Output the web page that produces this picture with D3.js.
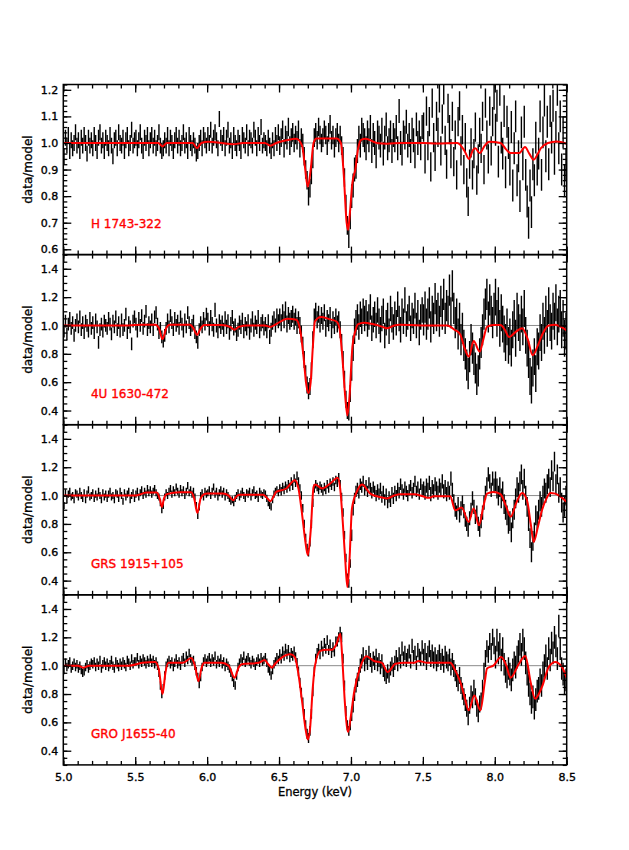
<!DOCTYPE html>
<html>
<head>
<meta charset="utf-8">
<script src="https://cdn.jsdelivr.net/npm/d3@7"></script>
<style>
  body { margin: 0; background: #fff; }
  text { font-family: "DejaVu Sans", sans-serif; }
</style>
</head>
<body>
<div id="chart"></div>
<script>
// energy bins: 0.01 keV wide, 5.00 .. 8.49 (bin start)
var eMin = 5.0, eMax = 8.5, eStep = 0.01;

// data/model ratio, one value per bin (rows = 0.1 keV)
var dataH1743 = [
  0.95,1.02,0.99,1.03,0.97,1.01,0.98,1.00,1.04,0.99,
  1.01,0.97,1.02,0.99,1.03,1.00,0.96,1.02,0.99,1.01,
  0.98,1.03,1.00,0.97,1.02,1.04,0.99,1.01,0.97,1.02,
  1.00,0.98,1.03,0.99,0.95,1.01,1.02,0.98,1.04,1.00,
  0.99,1.02,0.97,1.01,1.03,0.98,1.00,1.05,0.99,1.01,
  1.02,0.98,1.01,1.04,0.99,0.97,1.02,1.00,1.03,0.98,
  1.01,1.03,0.99,1.02,0.98,1.00,1.04,0.99,0.97,0.98,
  1.01,0.99,1.03,0.98,1.02,1.00,0.97,1.01,1.03,0.99,
  1.02,0.98,1.00,1.04,0.99,1.01,0.97,1.03,1.00,0.98,
  1.01,0.99,0.96,0.97,1.00,1.02,0.98,1.03,1.01,0.99,
  1.03,1.00,1.05,0.99,1.02,1.04,1.01,0.98,1.09,1.02,
  1.00,1.03,0.98,1.02,1.05,0.99,1.01,0.97,1.03,1.00,
  0.98,1.02,1.00,0.97,1.03,1.01,0.99,1.04,0.98,1.02,
  1.01,0.99,1.05,1.02,0.98,1.03,1.00,1.06,0.99,1.01,
  1.00,0.98,1.02,0.99,0.97,1.01,0.98,1.03,1.00,1.04,
  0.99,1.02,1.05,0.98,1.03,1.01,1.06,0.99,1.02,1.04,
  1.00,1.03,1.01,1.05,0.98,1.02,1.00,0.95,0.90,0.86,
  0.80,0.83,0.88,0.94,1.02,1.04,1.01,1.06,1.03,1.00,
  1.02,1.05,1.03,0.99,1.04,1.07,1.01,1.03,0.98,1.02,
  1.04,1.00,1.03,0.99,0.95,0.87,0.77,0.69,0.64,0.71,
  0.80,0.84,0.90,0.91,0.97,1.02,0.99,1.05,1.03,1.01,
  0.98,1.04,1.01,1.06,0.97,1.03,1.00,0.95,1.04,1.02,
  0.99,1.05,0.96,1.02,1.07,0.98,1.01,1.04,0.97,1.03,
  1.01,1.06,0.98,1.12,1.00,0.96,1.04,1.02,1.08,0.99,
  1.03,0.97,1.05,1.01,0.95,1.07,1.00,1.04,0.98,1.06,
  1.06,0.94,1.12,0.99,1.08,0.91,1.15,1.02,0.95,1.10,
  1.04,1.17,0.97,1.09,1.20,1.01,0.92,1.13,1.05,0.96,
  1.10,0.93,1.03,0.88,1.08,1.14,0.97,1.05,0.90,1.02,
  0.85,0.78,0.92,1.00,0.88,0.96,1.06,0.86,0.94,1.04,
  0.98,1.10,0.90,1.15,1.03,0.94,1.12,0.97,1.08,1.18,
  1.05,1.14,0.93,1.20,1.02,0.96,1.12,0.89,1.08,1.00,
  0.90,1.06,0.84,0.98,1.10,0.86,0.95,0.80,1.04,0.92,
  1.08,0.88,0.78,0.70,0.84,0.74,0.92,0.86,1.02,0.90,
  0.96,1.10,0.88,1.04,1.16,0.95,1.08,0.92,1.12,1.02,
  1.14,0.94,1.06,1.20,0.98,1.10,0.90,1.04,0.86,0.92
];
var data4U1630 = [
  0.96,1.03,0.94,1.01,1.05,0.98,1.02,0.93,1.00,1.04,
  0.99,1.06,0.97,1.02,0.95,1.03,1.00,0.96,1.05,0.98,
  1.02,0.95,1.04,0.99,0.88,0.97,1.01,0.96,1.03,1.00,
  0.98,1.05,1.01,0.94,1.03,0.99,1.06,0.97,1.02,0.96,
  1.04,0.97,1.00,1.08,0.95,1.02,0.99,0.87,1.03,1.06,
  1.01,0.96,1.05,1.00,1.07,0.98,1.03,1.10,0.97,1.02,
  0.99,1.04,0.97,1.06,1.09,1.01,0.95,0.98,0.92,0.89,
  0.93,0.98,1.04,0.99,1.07,1.02,0.97,1.05,1.00,1.03,
  0.98,1.06,1.01,0.96,1.04,0.99,1.09,1.02,0.97,1.00,
  1.03,0.95,0.92,0.88,0.97,1.02,0.99,1.05,1.01,1.08,
  1.04,0.98,1.06,1.01,0.97,1.11,1.00,0.96,1.03,0.99,
  1.02,0.97,1.05,0.99,1.03,0.95,1.01,1.06,0.98,1.00,
  0.94,0.97,1.02,0.99,1.04,0.96,1.01,0.98,1.03,0.95,
  1.00,1.05,0.97,1.02,0.99,1.06,0.96,1.01,1.03,0.98,
  1.01,0.96,1.03,0.92,0.97,1.02,1.05,1.00,1.07,1.03,
  1.06,1.02,1.09,1.04,1.11,1.01,1.07,1.03,1.05,1.08,
  1.03,1.06,1.00,1.04,1.00,0.94,0.86,0.76,0.66,0.58,
  0.54,0.57,0.68,0.90,1.06,1.10,1.04,1.08,1.01,1.07,
  1.03,1.09,0.98,1.05,1.02,1.07,0.97,1.04,1.00,1.06,
  1.01,1.04,0.97,0.88,0.76,0.62,0.48,0.40,0.39,0.52,
  0.70,0.84,0.96,1.02,1.06,0.99,1.08,1.03,1.10,1.05,
  1.09,1.01,1.06,1.13,0.98,1.04,1.08,1.00,1.11,1.03,
  0.97,1.05,1.10,0.93,1.02,1.07,0.96,1.12,1.04,0.99,
  1.08,1.02,1.15,1.05,0.97,1.10,1.03,1.18,1.01,1.06,
  1.12,0.98,1.07,1.03,1.14,1.00,1.09,0.95,1.06,1.11,
  1.04,1.13,1.01,1.08,1.16,0.99,1.10,1.05,1.19,1.07,
  1.12,1.03,1.17,1.08,1.22,1.05,1.14,1.10,1.25,1.09,
  1.28,1.12,1.02,1.08,0.94,1.05,0.90,0.98,0.86,0.80,
  0.72,0.66,0.78,0.90,0.84,0.76,0.70,0.62,0.68,0.80,
  0.88,0.97,1.08,1.15,1.22,1.06,1.18,1.10,1.02,1.12,
  1.20,1.05,1.14,0.98,1.09,1.01,0.94,0.88,0.99,0.86,
  0.92,0.84,0.97,1.05,0.91,1.10,1.02,0.95,1.08,0.99,
  1.12,0.93,0.84,0.76,0.64,0.58,0.70,0.78,0.66,0.85,
  0.82,0.95,0.88,1.03,0.93,1.08,0.98,1.14,1.02,0.96,
  1.10,1.03,1.16,0.99,1.08,1.12,0.97,1.05,0.91,0.96
];
var dataGRS1915 = [
  0.93,1.02,0.97,1.01,1.03,0.99,1.00,0.97,1.02,1.01,
  0.99,1.03,1.00,0.98,1.02,0.97,1.01,1.04,0.99,1.00,
  1.02,0.98,1.01,0.99,1.03,1.00,0.97,1.02,0.99,1.01,
  0.98,1.01,1.03,0.99,1.00,0.97,1.02,1.01,0.98,1.03,
  1.00,0.96,1.02,0.99,1.01,1.03,0.97,1.00,1.02,0.98,
  1.01,1.03,0.99,1.02,1.04,1.00,1.03,1.01,1.05,1.02,
  1.04,1.01,1.03,1.05,1.02,1.00,0.99,0.95,0.90,0.93,
  0.99,1.02,1.00,1.03,1.05,1.01,1.04,1.02,1.06,1.03,
  1.01,1.05,1.02,1.04,1.00,1.03,1.07,1.02,1.04,1.01,
  1.03,0.99,0.93,0.86,0.92,1.00,1.02,0.99,1.03,1.01,
  1.02,1.04,1.00,1.03,1.06,1.01,1.03,0.99,1.02,1.04,
  1.01,1.03,0.99,1.02,1.00,0.98,0.96,0.97,0.95,0.98,
  1.00,1.02,0.99,1.01,1.03,1.00,0.98,1.02,1.01,1.03,
  0.99,1.02,1.04,1.00,1.01,0.98,1.03,1.01,1.00,1.02,
  1.01,0.98,0.95,0.93,0.92,0.97,1.01,1.03,1.04,1.02,
  1.05,1.03,1.06,1.04,1.07,1.05,1.08,1.06,1.10,1.07,
  1.12,1.09,1.14,1.10,1.05,1.00,0.91,0.80,0.70,0.63,
  0.60,0.67,0.80,0.95,1.05,1.08,1.06,1.04,1.07,1.05,
  1.03,1.06,1.04,1.08,1.05,1.09,1.07,1.10,1.06,1.11,
  1.09,1.13,1.08,0.99,0.88,0.72,0.56,0.42,0.38,0.52,
  0.72,0.90,0.98,1.03,1.05,1.02,1.08,1.06,1.10,1.04,
  1.07,1.03,1.09,1.05,1.02,1.06,1.03,1.00,1.04,1.01,
  1.05,0.99,1.03,0.97,1.01,0.95,0.99,0.96,1.02,0.98,
  1.03,1.00,1.05,1.02,1.08,1.04,1.01,1.06,1.03,1.00,
  1.04,1.07,1.02,1.05,1.10,1.03,1.06,1.01,1.08,1.04,
  1.05,1.02,1.07,1.04,1.09,1.01,1.06,1.03,1.08,1.05,
  1.02,1.07,1.04,1.10,1.03,1.06,1.01,1.05,1.02,1.12,
  1.04,0.96,0.90,0.88,0.94,0.86,0.91,0.95,0.89,0.83,
  0.80,0.76,0.84,0.90,0.98,0.92,0.85,0.88,0.80,0.76,
  0.82,0.88,0.95,1.02,1.08,1.15,1.10,1.04,1.12,1.07,
  1.10,1.05,1.00,1.06,0.98,1.03,0.94,0.90,0.86,0.80,
  0.82,0.74,0.84,0.90,0.98,1.06,1.02,1.10,1.15,1.04,
  1.12,1.00,0.92,0.82,0.70,0.60,0.68,0.74,0.86,0.82,
  0.90,0.96,0.92,1.00,1.05,1.02,1.08,1.12,1.06,1.18,
  1.10,1.24,1.08,1.15,1.02,1.06,0.95,0.88,0.92,1.00
];
var dataGRO1655 = [
  0.97,1.02,0.99,1.01,1.03,0.98,1.00,1.02,0.99,1.01,
  0.98,1.00,0.97,0.95,0.96,0.99,1.01,0.98,1.00,1.02,
  1.01,1.03,0.99,1.02,1.00,1.04,0.98,1.01,1.03,1.00,
  1.02,0.99,1.01,1.04,1.00,0.98,1.03,1.01,0.99,1.02,
  1.00,1.03,1.01,0.99,1.04,1.02,1.00,1.05,1.01,1.03,
  1.03,1.06,1.01,1.04,1.02,1.05,1.03,1.01,1.04,1.02,
  1.05,1.02,1.04,1.01,1.03,1.00,0.95,0.86,0.80,0.84,
  0.93,1.00,1.02,1.04,1.01,1.03,0.99,1.02,1.05,1.01,
  1.03,1.00,1.04,1.06,1.02,1.07,1.04,1.09,1.05,1.03,
  1.04,1.00,0.96,0.92,0.87,0.92,0.99,1.03,1.05,1.02,
  1.04,1.06,1.02,1.05,1.03,1.07,1.01,1.04,1.02,1.05,
  1.01,1.03,0.99,1.02,1.00,0.98,0.95,0.92,0.88,0.86,
  0.93,0.99,1.02,1.05,1.03,1.07,1.02,1.04,1.06,1.03,
  1.01,1.04,1.02,1.00,1.03,1.05,1.02,1.06,1.03,1.04,
  1.06,1.02,0.98,0.96,0.93,0.97,1.01,1.03,1.06,1.04,
  1.08,1.05,1.10,1.07,1.12,1.08,1.11,1.06,1.09,1.07,
  1.10,1.06,1.02,0.96,0.88,0.81,0.74,0.66,0.58,0.52,
  0.49,0.54,0.66,0.82,0.96,1.05,1.09,1.12,1.08,1.14,
  1.10,1.16,1.12,1.18,1.11,1.15,1.09,1.13,1.10,1.17,
  1.17,1.20,1.24,1.20,1.05,0.86,0.68,0.58,0.54,0.58,
  0.66,0.72,0.80,0.86,0.90,0.94,1.00,1.03,1.08,1.01,
  1.06,1.02,1.09,1.04,1.00,1.05,1.02,1.07,1.01,1.04,
  0.99,1.03,0.97,0.94,0.92,0.96,0.93,0.98,1.01,0.97,
  1.02,1.06,1.01,1.08,1.03,1.12,1.05,1.09,1.04,1.07,
  1.10,1.03,1.14,1.06,1.09,1.02,1.11,1.07,1.05,1.13,
  1.06,1.10,1.03,1.08,1.12,1.05,1.09,1.04,1.07,1.02,
  1.05,1.09,1.03,1.06,1.01,1.08,1.04,1.02,1.06,0.99,
  1.03,0.98,0.95,0.91,0.88,0.93,0.86,0.82,0.78,0.74,
  0.70,0.64,0.72,0.80,0.76,0.84,0.78,0.70,0.66,0.73,
  0.75,0.84,0.96,1.05,1.12,1.08,1.17,1.10,1.20,1.14,
  1.06,1.18,1.09,1.15,1.04,1.12,1.01,0.96,0.92,0.98,
  0.94,0.90,0.97,1.02,0.99,1.06,1.10,1.15,1.08,1.18,
  1.12,1.02,0.94,0.86,0.80,0.74,0.78,0.70,0.76,0.82,
  0.84,0.90,0.86,0.95,1.00,1.07,0.98,1.12,1.04,1.16,
  1.09,1.20,1.14,1.05,1.28,1.12,0.98,0.94,0.88,0.90
];

// 1-sigma error per 0.5 keV band (5.0-5.5, ..., 8.0-8.5)
var errH1743 = [0.03, 0.03, 0.03, 0.035, 0.045, 0.055, 0.06];
var err4U1630 = [0.045, 0.045, 0.05, 0.06, 0.09, 0.11, 0.13];
var errGRS1915 = [0.025, 0.025, 0.025, 0.03, 0.04, 0.05, 0.07];
var errGRO1655 = [0.03, 0.03, 0.03, 0.035, 0.05, 0.06, 0.08];

// best-fit model, [energy keV, ratio]
var modelH1743 = [[5.0,1.0],[5.66,1.0],[5.69,0.987],[5.72,1.0],[5.90,1.0],[5.93,0.98],[5.96,1.0],[6.01,1.005],[6.10,1.0],[6.18,0.995],[6.25,1.0],[6.40,1.0],[6.44,0.99],[6.48,1.0],[6.55,1.01],[6.62,1.016],[6.66,0.99],[6.68,0.91],[6.70,0.835],[6.72,0.9],[6.74,1.0],[6.76,1.017],[6.90,1.017],[6.93,1.0],[6.95,0.88],[6.97,0.70],[6.98,0.673],[6.99,0.72],[7.01,0.85],[7.03,0.90],[7.05,0.98],[7.07,1.012],[7.10,1.016],[7.18,1.0],[7.25,0.997],[7.35,1.0],[7.5,1.0],[7.6,0.998],[7.74,1.0],[7.79,0.97],[7.82,0.94],[7.85,0.975],[7.865,0.98],[7.895,0.962],[7.93,0.99],[7.96,1.005],[8.04,1.0],[8.08,0.975],[8.11,0.962],[8.17,0.962],[8.21,0.985],[8.24,0.96],[8.27,0.937],[8.30,0.96],[8.32,0.98],[8.37,1.0],[8.43,1.006],[8.5,0.997]];
var model4U1630 = [[5.0,1.0],[5.45,1.0],[5.55,1.005],[5.64,1.005],[5.665,0.98],[5.69,0.904],[5.715,0.98],[5.74,1.005],[5.88,1.005],[5.905,0.98],[5.93,0.934],[5.955,0.98],[5.98,1.003],[6.10,1.003],[6.16,0.99],[6.19,0.97],[6.22,0.99],[6.28,1.0],[6.40,1.0],[6.44,0.99],[6.48,1.01],[6.56,1.047],[6.62,1.04],[6.65,0.95],[6.67,0.78],[6.69,0.58],[6.705,0.523],[6.72,0.6],[6.735,0.85],[6.75,1.03],[6.79,1.06],[6.85,1.045],[6.90,1.028],[6.92,0.98],[6.94,0.78],[6.96,0.5],[6.975,0.365],[6.99,0.5],[7.01,0.85],[7.03,0.96],[7.05,1.01],[7.09,1.02],[7.15,1.01],[7.22,0.99],[7.25,0.98],[7.30,1.0],[7.34,1.005],[7.50,1.0],[7.67,1.0],[7.72,0.97],[7.76,0.936],[7.79,0.84],[7.82,0.78],[7.853,0.89],[7.895,0.816],[7.92,0.9],[7.946,0.99],[7.99,1.003],[8.04,1.003],[8.07,0.97],[8.10,0.918],[8.14,0.95],[8.19,0.98],[8.23,0.9],[8.263,0.79],[8.30,0.86],[8.33,0.936],[8.375,1.0],[8.42,1.005],[8.46,0.99],[8.5,0.965]];
var modelGRS1915 = [[5.0,1.0],[5.5,1.0],[5.58,1.021],[5.65,1.021],[5.67,0.98],[5.686,0.92],[5.70,0.98],[5.72,1.01],[5.81,1.024],[5.89,1.024],[5.91,0.98],[5.932,0.878],[5.955,0.98],[5.98,1.01],[6.0,1.015],[6.11,1.015],[6.15,1.0],[6.18,0.967],[6.21,1.0],[6.23,1.005],[6.39,1.005],[6.42,0.98],[6.44,0.96],[6.46,0.99],[6.48,1.026],[6.55,1.05],[6.61,1.108],[6.635,1.05],[6.66,0.87],[6.68,0.7],[6.70,0.579],[6.72,0.75],[6.74,1.06],[6.75,1.078],[6.80,1.05],[6.856,1.085],[6.907,1.125],[6.925,1.05],[6.94,0.86],[6.96,0.55],[6.975,0.355],[6.99,0.55],[7.007,0.91],[7.04,1.026],[7.077,1.078],[7.134,1.014],[7.20,0.99],[7.25,0.98],[7.30,1.0],[7.34,1.01],[7.44,1.01],[7.50,0.995],[7.54,0.984],[7.575,0.995],[7.69,0.995],[7.725,0.896],[7.77,0.915],[7.818,0.814],[7.853,0.908],[7.89,0.79],[7.92,0.92],[7.946,1.014],[7.99,1.026],[8.04,1.01],[8.08,0.92],[8.11,0.85],[8.15,0.95],[8.19,1.019],[8.224,0.967],[8.25,0.8],[8.27,0.673],[8.30,0.78],[8.328,0.896],[8.36,0.98],[8.386,1.019],[8.42,1.014],[8.46,0.99],[8.5,0.955]];
var modelGRO1655 = [[5.0,1.0],[5.1,1.0],[5.14,0.986],[5.18,1.0],[5.45,1.0],[5.55,1.02],[5.64,1.026],[5.665,0.97],[5.69,0.80],[5.71,0.95],[5.73,1.02],[5.83,1.02],[5.89,1.054],[5.915,1.0],[5.94,0.89],[5.96,0.98],[5.98,1.02],[6.10,1.02],[6.15,1.0],[6.19,0.915],[6.22,0.99],[6.24,1.01],[6.36,1.02],[6.40,1.04],[6.425,1.01],[6.45,0.986],[6.47,1.01],[6.51,1.05],[6.58,1.08],[6.61,1.06],[6.63,0.97],[6.66,0.75],[6.685,0.55],[6.70,0.48],[6.715,0.55],[6.735,0.85],[6.75,1.0],[6.787,1.104],[6.83,1.113],[6.87,1.113],[6.90,1.155],[6.926,1.226],[6.94,1.05],[6.955,0.78],[6.98,0.532],[7.00,0.65],[7.02,0.80],[7.065,0.99],[7.107,1.066],[7.16,1.033],[7.215,1.02],[7.255,0.955],[7.31,1.014],[7.37,1.02],[7.44,1.02],[7.47,1.033],[7.53,1.02],[7.575,1.02],[7.69,1.02],[7.725,0.967],[7.76,0.885],[7.79,0.78],[7.818,0.685],[7.858,0.79],[7.90,0.685],[7.93,0.88],[7.946,0.98],[7.99,1.0],[8.045,1.061],[8.08,1.0],[8.11,0.915],[8.166,1.01],[8.212,1.068],[8.25,0.88],[8.28,0.767],[8.328,0.85],[8.375,0.99],[8.42,1.026],[8.467,0.99],[8.5,0.915]];

var sources = ["H 1743-322", "4U 1630-472", "GRS 1915+105", "GRO J1655-40"];
var xTicks = [5.0, 5.5, 6.0, 6.5, 7.0, 7.5, 8.0, 8.5];
var yTicksTop = [0.6, 0.7, 0.8, 0.9, 1.0, 1.1, 1.2];
var yTicksRest = [0.4, 0.6, 0.8, 1.0, 1.2, 1.4];

var panels = [
    { name: sources[0], data: dataH1743, err: errH1743, model: modelH1743, domain: [0.58, 1.22], major: yTicksTop, minor: 0.02 },
    { name: sources[1], data: data4U1630, err: err4U1630, model: model4U1630, domain: [0.3, 1.5], major: yTicksRest, minor: 0.05 },
    { name: sources[2], data: dataGRS1915, err: errGRS1915, model: modelGRS1915, domain: [0.3, 1.5], major: yTicksRest, minor: 0.05 },
    { name: sources[3], data: dataGRO1655, err: errGRO1655, model: modelGRO1655, domain: [0.3, 1.5], major: yTicksRest, minor: 0.05 }
];

var margin = { top: 84.5, left: 63.3 },
    width = 503.4,
    panelH = 170.1;

var svg = d3.select("#chart")
    .append("svg")
    .attr("width", 629)
    .attr("height", 850);

var x = d3.scaleLinear().domain([eMin, eMax]).range([0, width]);
var xMinor = d3.range(50, 86).map(function (d) { return d / 10; });

panels.forEach(function (p, i) {
    var g = svg.append("g")
        .attr("transform", "translate(" + margin.left + "," + (margin.top + i * panelH) + ")");

    var y = d3.scaleLinear().domain(p.domain).range([panelH, 0]);

    g.append("clipPath").attr("id", "clip" + i)
        .append("rect").attr("width", width).attr("height", panelH);

    var plot = g.append("g").attr("clip-path", "url(#clip" + i + ")");

    // reference line at ratio 1
    plot.append("line")
        .attr("x1", 0).attr("x2", width)
        .attr("y1", y(1)).attr("y2", y(1))
        .attr("stroke", "#8c8c8c").attr("stroke-width", 1);

    // error bars
    plot.append("g")
        .selectAll("line")
        .data(p.data)
        .enter()
        .append("line")
        .attr("x1", function (d, j) { return x(eMin + (j + 0.5) * eStep); })
        .attr("x2", function (d, j) { return x(eMin + (j + 0.5) * eStep); })
        .attr("y1", function (d, j) { return y(d - p.err[Math.min(6, Math.floor(j / 50))]); })
        .attr("y2", function (d, j) { return y(d + p.err[Math.min(6, Math.floor(j / 50))]); })
        .attr("stroke", "#000")
        .attr("stroke-width", 1.4);

    // model
    plot.append("path")
        .datum(p.model)
        .attr("fill", "none")
        .attr("stroke", "#ff0000")
        .attr("stroke-width", 2)
        .attr("d", d3.line()
            .curve(d3.curveMonotoneX)
            .x(function (d) { return x(d[0]); })
            .y(function (d) { return y(d[1]); }));

    // minor / major ticks on all four sides, pointing inward
    var yMinor = d3.range(Math.ceil(p.domain[0] / p.minor), Math.floor(p.domain[1] / p.minor) + 1)
        .map(function (k) { return +(k * p.minor).toFixed(2); });

    function strip(sel) {
        sel.select(".domain").remove();
        sel.selectAll("line").attr("stroke", "#000").attr("stroke-width", 1.3);
        sel.selectAll("text")
            .attr("fill", "#000")
            .attr("stroke", "#000").attr("stroke-width", 0.35)
            .style("font-size", "11px")
            .style("font-family", "'DejaVu Sans', sans-serif");
    }

    g.append("g").call(d3.axisLeft(y).tickValues(yMinor).tickSize(-4).tickFormat("")).call(strip);
    g.append("g").call(d3.axisLeft(y).tickValues(p.major).tickSize(-8).tickPadding(5).tickFormat(d3.format(".1f"))).call(strip);
    g.append("g").attr("transform", "translate(" + width + ",0)")
        .call(d3.axisRight(y).tickValues(yMinor).tickSize(-4).tickFormat("")).call(strip);
    g.append("g").attr("transform", "translate(" + width + ",0)")
        .call(d3.axisRight(y).tickValues(p.major).tickSize(-8).tickFormat("")).call(strip);

    g.append("g").call(d3.axisTop(x).tickValues(xMinor).tickSize(-4).tickFormat("")).call(strip);
    g.append("g").call(d3.axisTop(x).tickValues(xTicks).tickSize(-8).tickFormat("")).call(strip);
    g.append("g").attr("transform", "translate(0," + panelH + ")")
        .call(d3.axisBottom(x).tickValues(xMinor).tickSize(-4).tickFormat("")).call(strip);
    g.append("g").attr("transform", "translate(0," + panelH + ")")
        .call(d3.axisBottom(x).tickValues(xTicks).tickSize(-8).tickPadding(8)
            .tickFormat(i == panels.length - 1 ? d3.format(".1f") : ""))
        .call(strip);

    // frame
    g.append("rect")
        .attr("width", width).attr("height", panelH)
        .attr("fill", "none").attr("stroke", "#000").attr("stroke-width", 1.5);

    // y label
    g.append("text")
        .attr("transform", "rotate(-90)")
        .attr("x", -panelH / 2)
        .attr("y", -31)
        .attr("text-anchor", "middle")
        .style("font-size", "12px")
        .attr("stroke", "#000").attr("stroke-width", 0.3)
        .text("data/model");

    // source name
    g.append("text")
        .attr("x", 27.7)
        .attr("y", panelH - 27)
        .attr("fill", "#ff0000")
        .attr("stroke", "#ff0000").attr("stroke-width", 0.35)
        .style("font-size", "12px")
        .text(p.name);
});

// x axis title
svg.append("text")
    .attr("x", margin.left + width / 2)
    .attr("y", 796)
    .attr("text-anchor", "middle")
    .attr("stroke", "#000").attr("stroke-width", 0.3)
    .style("font-size", "11.5px")
    .text("Energy (keV)");
</script>
</body>
</html>
